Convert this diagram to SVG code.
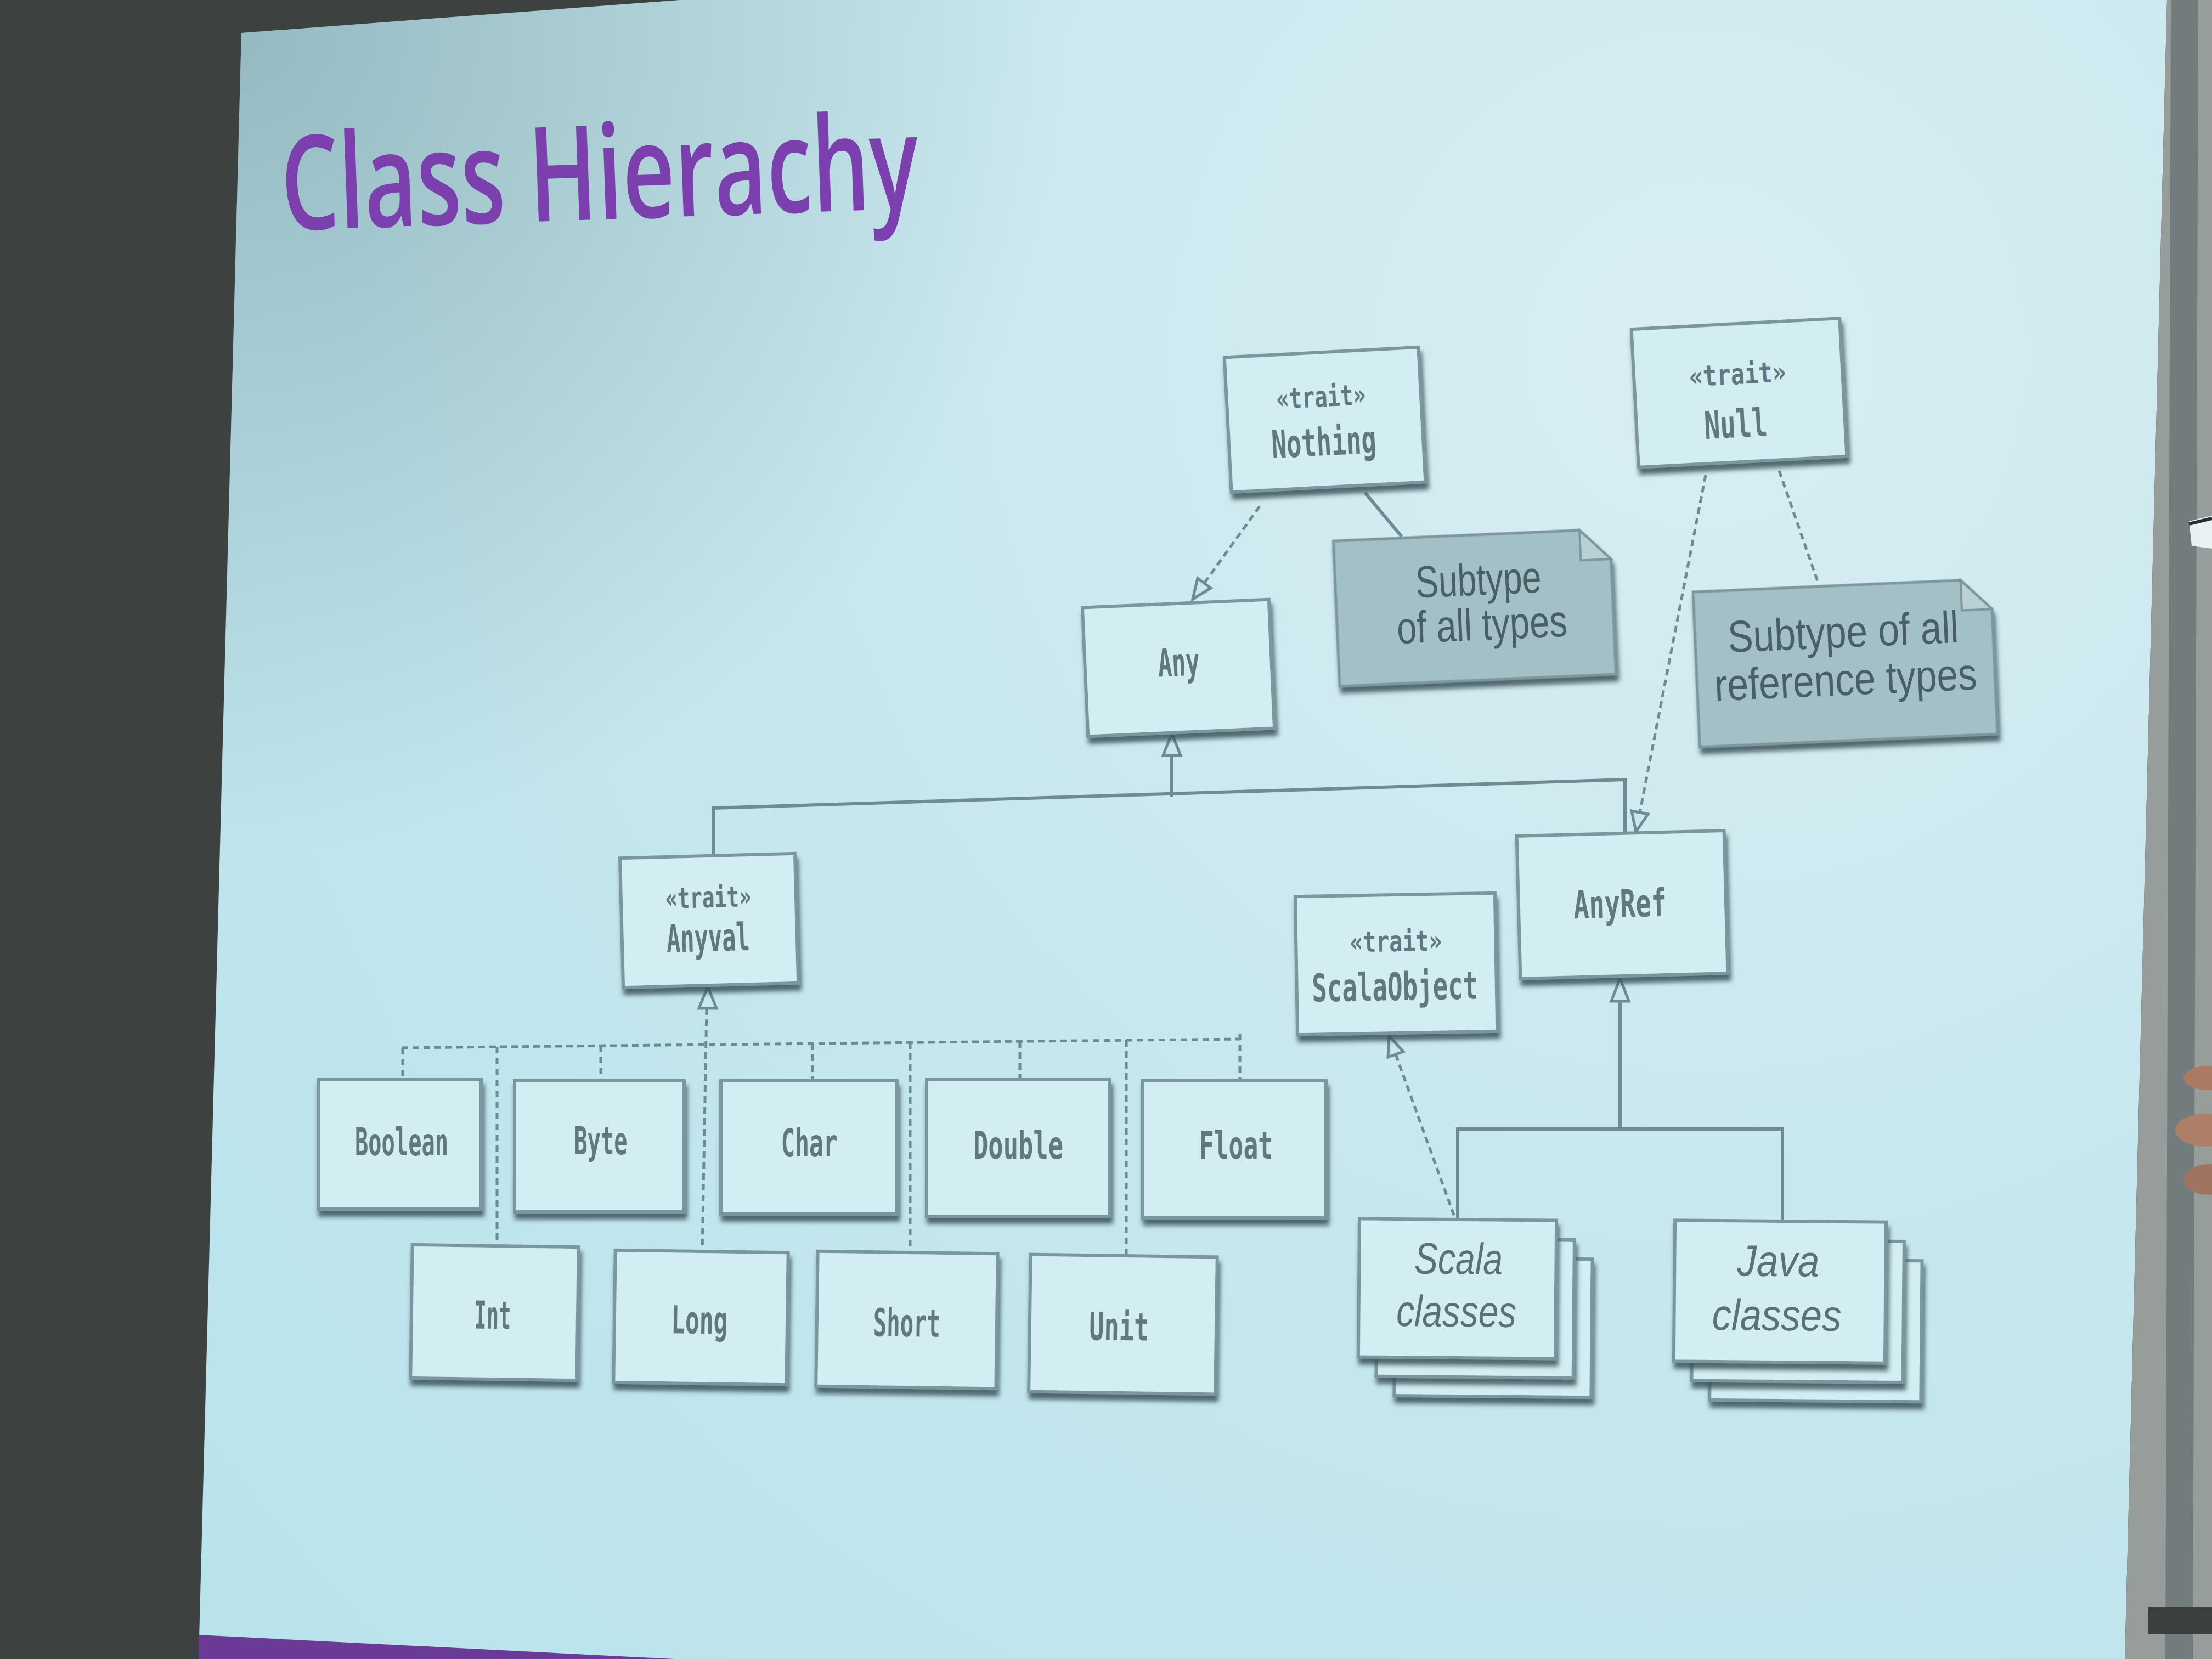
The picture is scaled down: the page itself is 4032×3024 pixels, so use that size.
<svg xmlns="http://www.w3.org/2000/svg" width="4032" height="3024" viewBox="0 0 4032 3024">
<defs>
  <radialGradient id="scr" gradientUnits="userSpaceOnUse" cx="3100" cy="650" r="3700">
    <stop offset="0" stop-color="#d9eef2"/>
    <stop offset="0.45" stop-color="#c7e7ee"/>
    <stop offset="1" stop-color="#b8e3eb"/>
  </radialGradient>
  <radialGradient id="vig" gradientUnits="userSpaceOnUse" cx="440" cy="60" r="1500">
    <stop offset="0" stop-color="#4f7378" stop-opacity="0.38"/>
    <stop offset="1" stop-color="#4f7378" stop-opacity="0"/>
  </radialGradient>
  <filter id="sh" x="-10%" y="-10%" width="130%" height="140%">
    <feGaussianBlur in="SourceAlpha" stdDeviation="4"/>
    <feOffset dx="3" dy="11" result="b"/>
    <feFlood flood-color="#3a5158" flood-opacity="0.85"/>
    <feComposite in2="b" operator="in"/>
    <feMerge><feMergeNode/><feMergeNode in="SourceGraphic"/></feMerge>
  </filter>
  <style>
    .box{fill:#d3eef3;stroke:#7a979f;stroke-width:6;filter:url(#sh)}
    .note{fill:#a3c0c6;stroke:#7d979d;stroke-width:5;filter:url(#sh)}
    .fold{fill:#b9d0d4;stroke:#7d979d;stroke-width:4}
    .mono{font-family:"DejaVu Sans Mono","Liberation Mono",monospace;font-weight:bold;fill:#62777e;text-anchor:middle;font-size:70px}
    .st{font-family:"DejaVu Sans Mono","Liberation Mono",monospace;font-weight:bold;fill:#62777e;text-anchor:middle;font-size:52px}
    .sans{font-family:"Liberation Sans",Arial,sans-serif;fill:#4a5f65;text-anchor:middle;font-size:82px}
    .ital{font-family:"Liberation Sans",Arial,sans-serif;font-style:italic;fill:#5c7077;text-anchor:middle;font-size:80px}
    .ln{fill:none;stroke:#6e8a92;stroke-width:6}
    .dl{fill:none;stroke:#6e8a92;stroke-width:5;stroke-dasharray:12 8}
    .tri{fill:#c8e8ee;stroke:#6e8a92;stroke-width:5;stroke-linejoin:miter}
  </style>
</defs>

<!-- room, projection screen and surroundings -->
<g id="backdrop">
  <rect x="0" y="0" width="4032" height="3024" fill="#3d413f"/>
  <polygon points="440,60 1240,0 3950,0 3873,3024 362,3024" fill="url(#scr)"/>
  <polygon points="440,60 1240,0 3950,0 3873,3024 362,3024" fill="url(#vig)"/>
  <polygon points="3950,0 4032,0 4032,3024 3873,3024" fill="#979d9a"/>
  <polygon points="3957,0 4007,0 3997,3024 3947,3024" fill="#737c7c"/>
  <polygon points="3990,950 4032,940 4032,1000 3995,995" fill="#e8f2f2"/>
  <line x1="3990" y1="955" x2="4032" y2="945" stroke="#2a2f33" stroke-width="6"/>
  <ellipse cx="4025" cy="1965" rx="45" ry="22" fill="#a87b62"/>
  <ellipse cx="4020" cy="2060" rx="55" ry="30" fill="#ad7f66"/>
  <ellipse cx="4025" cy="2150" rx="45" ry="28" fill="#a07560"/>
  <rect x="3915" y="2930" width="117" height="48" fill="#3b3f3e"/>
  <polygon points="362,2980 1230,3024 362,3024" fill="#6b3a96"/>
</g>

<text id="title" x="515" y="420" transform="rotate(-2 515 420)" font-family="'Open Sans','Noto Sans',sans-serif" font-weight="600" font-size="240" fill="#7b3fae" textLength="1162" lengthAdjust="spacingAndGlyphs">Class Hierachy</text>

<!-- connectors: generalisations, realisations and note links -->
<g id="connectors">
  <!-- Any from AnyVal and AnyRef -->
  <polyline class="ln" points="2136,1377 2136,1452"/>
  <polyline class="ln" points="1300,1560 1300,1473 2962,1421 2962,1519"/>
  <polygon class="tri" points="2136,1337 2152,1377 2120,1377"/>
  <!-- Nothing realises Any -->
  <line class="dl" x1="2296" y1="923" x2="2195" y2="1063"/>
  <polygon class="tri" points="2174,1092 2207,1072 2183,1054"/>
  <!-- Nothing to its note -->
  <line class="ln" stroke-width="4" x1="2488" y1="898" x2="2555" y2="978"/>
  <!-- Null realises AnyRef -->
  <line class="dl" x1="3109" y1="866" x2="2989" y2="1481"/>
  <polygon class="tri" points="2982,1516 3004,1484 2974,1478"/>
  <!-- Null to its note -->
  <line class="dl" x1="3243" y1="858" x2="3315" y2="1065"/>
  <!-- AnyVal from the value classes -->
  <polygon class="tri" points="1290,1798 1306,1838 1274,1838"/>
  <line class="dl" x1="1288" y1="1838" x2="1280" y2="2281"/>
  <line class="dl" x1="732" y1="1910" x2="2260" y2="1894"/>
  <line class="dl" x1="2260" y1="1884" x2="2260" y2="1970"/>
  <line class="dl" x1="734" y1="1910" x2="734" y2="1968"/>
  <line class="dl" x1="906" y1="1908" x2="906" y2="2271"/>
  <line class="dl" x1="1095" y1="1906" x2="1095" y2="1970"/>
  <line class="dl" x1="1481" y1="1902" x2="1481" y2="1970"/>
  <line class="dl" x1="1659" y1="1900" x2="1659" y2="2283"/>
  <line class="dl" x1="1859" y1="1898" x2="1859" y2="1968"/>
  <line class="dl" x1="2053" y1="1896" x2="2053" y2="2289"/>
  <!-- ScalaObject from Scala classes -->
  <polygon class="tri" points="2532,1888 2558,1917 2530,1927"/>
  <line class="dl" x1="2544" y1="1922" x2="2652" y2="2220"/>
  <!-- AnyRef from Scala and Java classes -->
  <polygon class="tri" points="2953,1783 2969,1825 2937,1825"/>
  <polyline class="ln" points="2953,1825 2953,2058"/>
  <polyline class="ln" points="2657,2223 2657,2058 3249,2058 3249,2226"/>
</g>

<g id="node-nothing" transform="rotate(-3 2415 765)">
  <rect class="box" x="2238" y="642" width="354" height="246"/>
  <text class="st" x="2410" y="741" textLength="163" lengthAdjust="spacingAndGlyphs">«trait»</text>
  <text class="mono" x="2411" y="830" textLength="191" lengthAdjust="spacingAndGlyphs">Nothing</text>
</g>

<g id="node-null" transform="rotate(-3 3170 716)">
  <rect class="box" x="2980" y="590" width="380" height="252"/>
  <text class="st" x="3169" y="700" textLength="177" lengthAdjust="spacingAndGlyphs">«trait»</text>
  <text class="mono" x="3161" y="797" textLength="115" lengthAdjust="spacingAndGlyphs">Null</text>
</g>

<g id="note-nothing" transform="rotate(-2.5 2688 1108)">
  <path class="note" d="M2436,975 H2885 L2940,1030 V1240 H2436 Z"/>
  <path class="fold" d="M2885,975 V1030 H2940 Z"/>
  <text class="sans" x="2697" y="1085" textLength="229" lengthAdjust="spacingAndGlyphs">Subtype</text>
  <text class="sans" x="2700" y="1167" textLength="311" lengthAdjust="spacingAndGlyphs">of all types</text>
</g>

<g id="note-null" transform="rotate(-2.5 3363 1208)">
  <path class="note" d="M3092,1067 H3580 L3635,1122 V1350 H3092 Z"/>
  <path class="fold" d="M3580,1067 V1122 H3635 Z"/>
  <text class="sans" x="3362" y="1180" textLength="421" lengthAdjust="spacingAndGlyphs">Subtype of all</text>
  <text class="sans" x="3363" y="1267" textLength="479" lengthAdjust="spacingAndGlyphs">reference types</text>
</g>

<g id="node-any" transform="rotate(-2.5 2148 1218)">
  <rect class="box" x="1978" y="1100" width="340" height="235"/>
  <text class="mono" x="2149" y="1232" textLength="76" lengthAdjust="spacingAndGlyphs">Any</text>
</g>

<g id="node-anyval" transform="rotate(-1.5 1292 1678)">
  <rect class="box" x="1133" y="1560" width="319" height="236"/>
  <text class="st" x="1292" y="1654" textLength="157" lengthAdjust="spacingAndGlyphs">«trait»</text>
  <text class="mono" x="1290" y="1734" textLength="152" lengthAdjust="spacingAndGlyphs">Anyval</text>
</g>

<g id="node-anyref" transform="rotate(-1.5 2957 1649)">
  <rect class="box" x="2768" y="1519" width="378" height="260"/>
  <text class="mono" x="2953" y="1672" textLength="170" lengthAdjust="spacingAndGlyphs">AnyRef</text>
</g>

<g id="node-scalaobject" transform="rotate(-1 2545 1757)">
  <rect class="box" x="2363" y="1631" width="364" height="252"/>
  <text class="st" x="2545" y="1734" textLength="168" lengthAdjust="spacingAndGlyphs">«trait»</text>
  <text class="mono" x="2542" y="1823" textLength="303" lengthAdjust="spacingAndGlyphs">ScalaObject</text>
</g>

<g id="node-boolean">
  <rect class="box" x="580" y="1968" width="297" height="236"/>
  <text class="mono" x="732" y="2106" textLength="170" lengthAdjust="spacingAndGlyphs">Boolean</text>
</g>
<g id="node-byte">
  <rect class="box" x="938" y="1970" width="309" height="239"/>
  <text class="mono" x="1095" y="2104" textLength="97" lengthAdjust="spacingAndGlyphs">Byte</text>
</g>
<g id="node-char">
  <rect class="box" x="1314" y="1970" width="321" height="243"/>
  <text class="mono" x="1475" y="2108" textLength="103" lengthAdjust="spacingAndGlyphs">Char</text>
</g>
<g id="node-double">
  <rect class="box" x="1689" y="1968" width="334" height="249"/>
  <text class="mono" x="1856" y="2112" textLength="164" lengthAdjust="spacingAndGlyphs">Double</text>
</g>
<g id="node-float">
  <rect class="box" x="2083" y="1970" width="334" height="250"/>
  <text class="mono" x="2253" y="2112" textLength="134" lengthAdjust="spacingAndGlyphs">Float</text>
</g>

<g id="node-int" transform="rotate(0.8 900 2392)">
  <rect class="box" x="750" y="2271" width="303" height="243"/>
  <text class="mono" x="898" y="2422" textLength="67" lengthAdjust="spacingAndGlyphs">Int</text>
</g>
<g id="node-long" transform="rotate(0.8 1277 2401)">
  <rect class="box" x="1120" y="2281" width="315" height="241"/>
  <text class="mono" x="1275" y="2431" textLength="103" lengthAdjust="spacingAndGlyphs">Long</text>
</g>
<g id="node-short" transform="rotate(0.8 1653 2406)">
  <rect class="box" x="1489" y="2283" width="328" height="246"/>
  <text class="mono" x="1653" y="2436" textLength="122" lengthAdjust="spacingAndGlyphs">Short</text>
</g>
<g id="node-unit" transform="rotate(0.8 2047 2413)">
  <rect class="box" x="1877" y="2289" width="340" height="250"/>
  <text class="mono" x="2040" y="2443" textLength="109" lengthAdjust="spacingAndGlyphs">Unit</text>
</g>

<g id="node-scala-classes" transform="rotate(0.5 2656 2350)">
  <rect class="box" x="2543" y="2293" width="359" height="252"/>
  <rect class="box" x="2510" y="2258" width="359" height="252"/>
  <rect class="box" x="2477" y="2223" width="359" height="252"/>
  <text class="ital" x="2658" y="2322" textLength="161" lengthAdjust="spacingAndGlyphs">Scala</text>
  <text class="ital" x="2655" y="2418" textLength="219" lengthAdjust="spacingAndGlyphs">classes</text>
</g>

<g id="node-java-classes" transform="rotate(0.5 3244 2354)">
  <rect class="box" x="3118" y="2296" width="385" height="257"/>
  <rect class="box" x="3085" y="2261" width="385" height="257"/>
  <rect class="box" x="3052" y="2226" width="385" height="257"/>
  <text class="ital" x="3241" y="2326" textLength="150" lengthAdjust="spacingAndGlyphs">Java</text>
  <text class="ital" x="3239" y="2425" textLength="236" lengthAdjust="spacingAndGlyphs">classes</text>
</g>
</svg>
